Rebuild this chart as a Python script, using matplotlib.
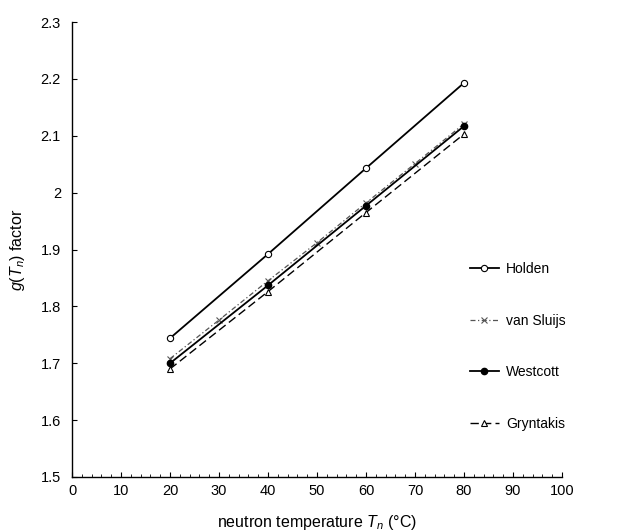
import numpy as np
import matplotlib
matplotlib.use('Agg')
import matplotlib.pyplot as plt
from matplotlib.ticker import MultipleLocator, FormatStrFormatter

plt.rcParams['font.family'] = ['Liberation Sans', 'DejaVu Sans']
plt.rcParams['mathtext.fontset'] = 'custom'
plt.rcParams['mathtext.rm'] = 'Liberation Sans'
plt.rcParams['mathtext.it'] = 'Liberation Sans:italic'

# data
T_main = [20, 40, 60, 80]
T_sluijs = [20, 30, 40, 50, 60, 70, 80]
holden = [1.744, 1.892, 2.043, 2.193]
sluijs = [1.708, 1.776, 1.845, 1.912, 1.982, 2.051, 2.121]
westcott = [1.700, 1.837, 1.977, 2.117]
gryntakis = [1.690, 1.826, 1.965, 2.103]

fig = plt.figure(figsize=(6.39, 5.32), dpi=100)
ax = fig.add_axes([0.1127, 0.1034, 0.7668, 0.8552])

ax.plot(T_main, holden, color='black', lw=1.3, marker='o', ms=4.5,
        mfc='white', mec='black', mew=0.8, label='Holden')
ax.plot(T_sluijs, sluijs, color='#555555', lw=0.9, ls=(0, (4, 2, 1, 2)),
        marker='x', ms=4.5, mew=0.8, label='van Sluijs')
ax.plot(T_main, westcott, color='black', lw=1.3, marker='o', ms=4.5,
        mfc='black', label='Westcott')
ax.plot(T_main, gryntakis, color='black', lw=1.0, ls=(0, (6, 3)),
        marker='^', ms=4.5, mfc='white', mec='black', mew=0.8, label='Gryntakis')

ax.set_xlim(0, 100)
ax.set_ylim(1.5, 2.3)
ax.xaxis.set_major_locator(MultipleLocator(10))
ax.xaxis.set_minor_locator(MultipleLocator(2))
ax.yaxis.set_major_locator(MultipleLocator(0.1))
ax.yaxis.set_major_formatter(FormatStrFormatter('%g'))
ax.yaxis.set_minor_locator(plt.NullLocator())
ax.tick_params(which='both', direction='in', labelsize=10.5)
ax.tick_params(which='major', length=3.5, width=0.8)
ax.tick_params(which='minor', length=2, width=0.6)
ax.tick_params(axis='y', pad=8)
ax.tick_params(axis='x', pad=5)
for s in ['top', 'right']:
    ax.spines[s].set_visible(False)
for s in ['left', 'bottom']:
    ax.spines[s].set_linewidth(1.0)

ax.set_xlabel(r'neutron temperature $T_n$ (°C)', fontsize=11.5, labelpad=11)
ax.set_ylabel(r'$g(T_n)$ factor', fontsize=11.5, labelpad=10)

ax.legend(loc='center left', bbox_to_anchor=(0.786, 0.287), frameon=False,
          fontsize=10, handlelength=2.1, handletextpad=0.5, labelspacing=2.7)

fig.savefig('out.png', dpi=100)
